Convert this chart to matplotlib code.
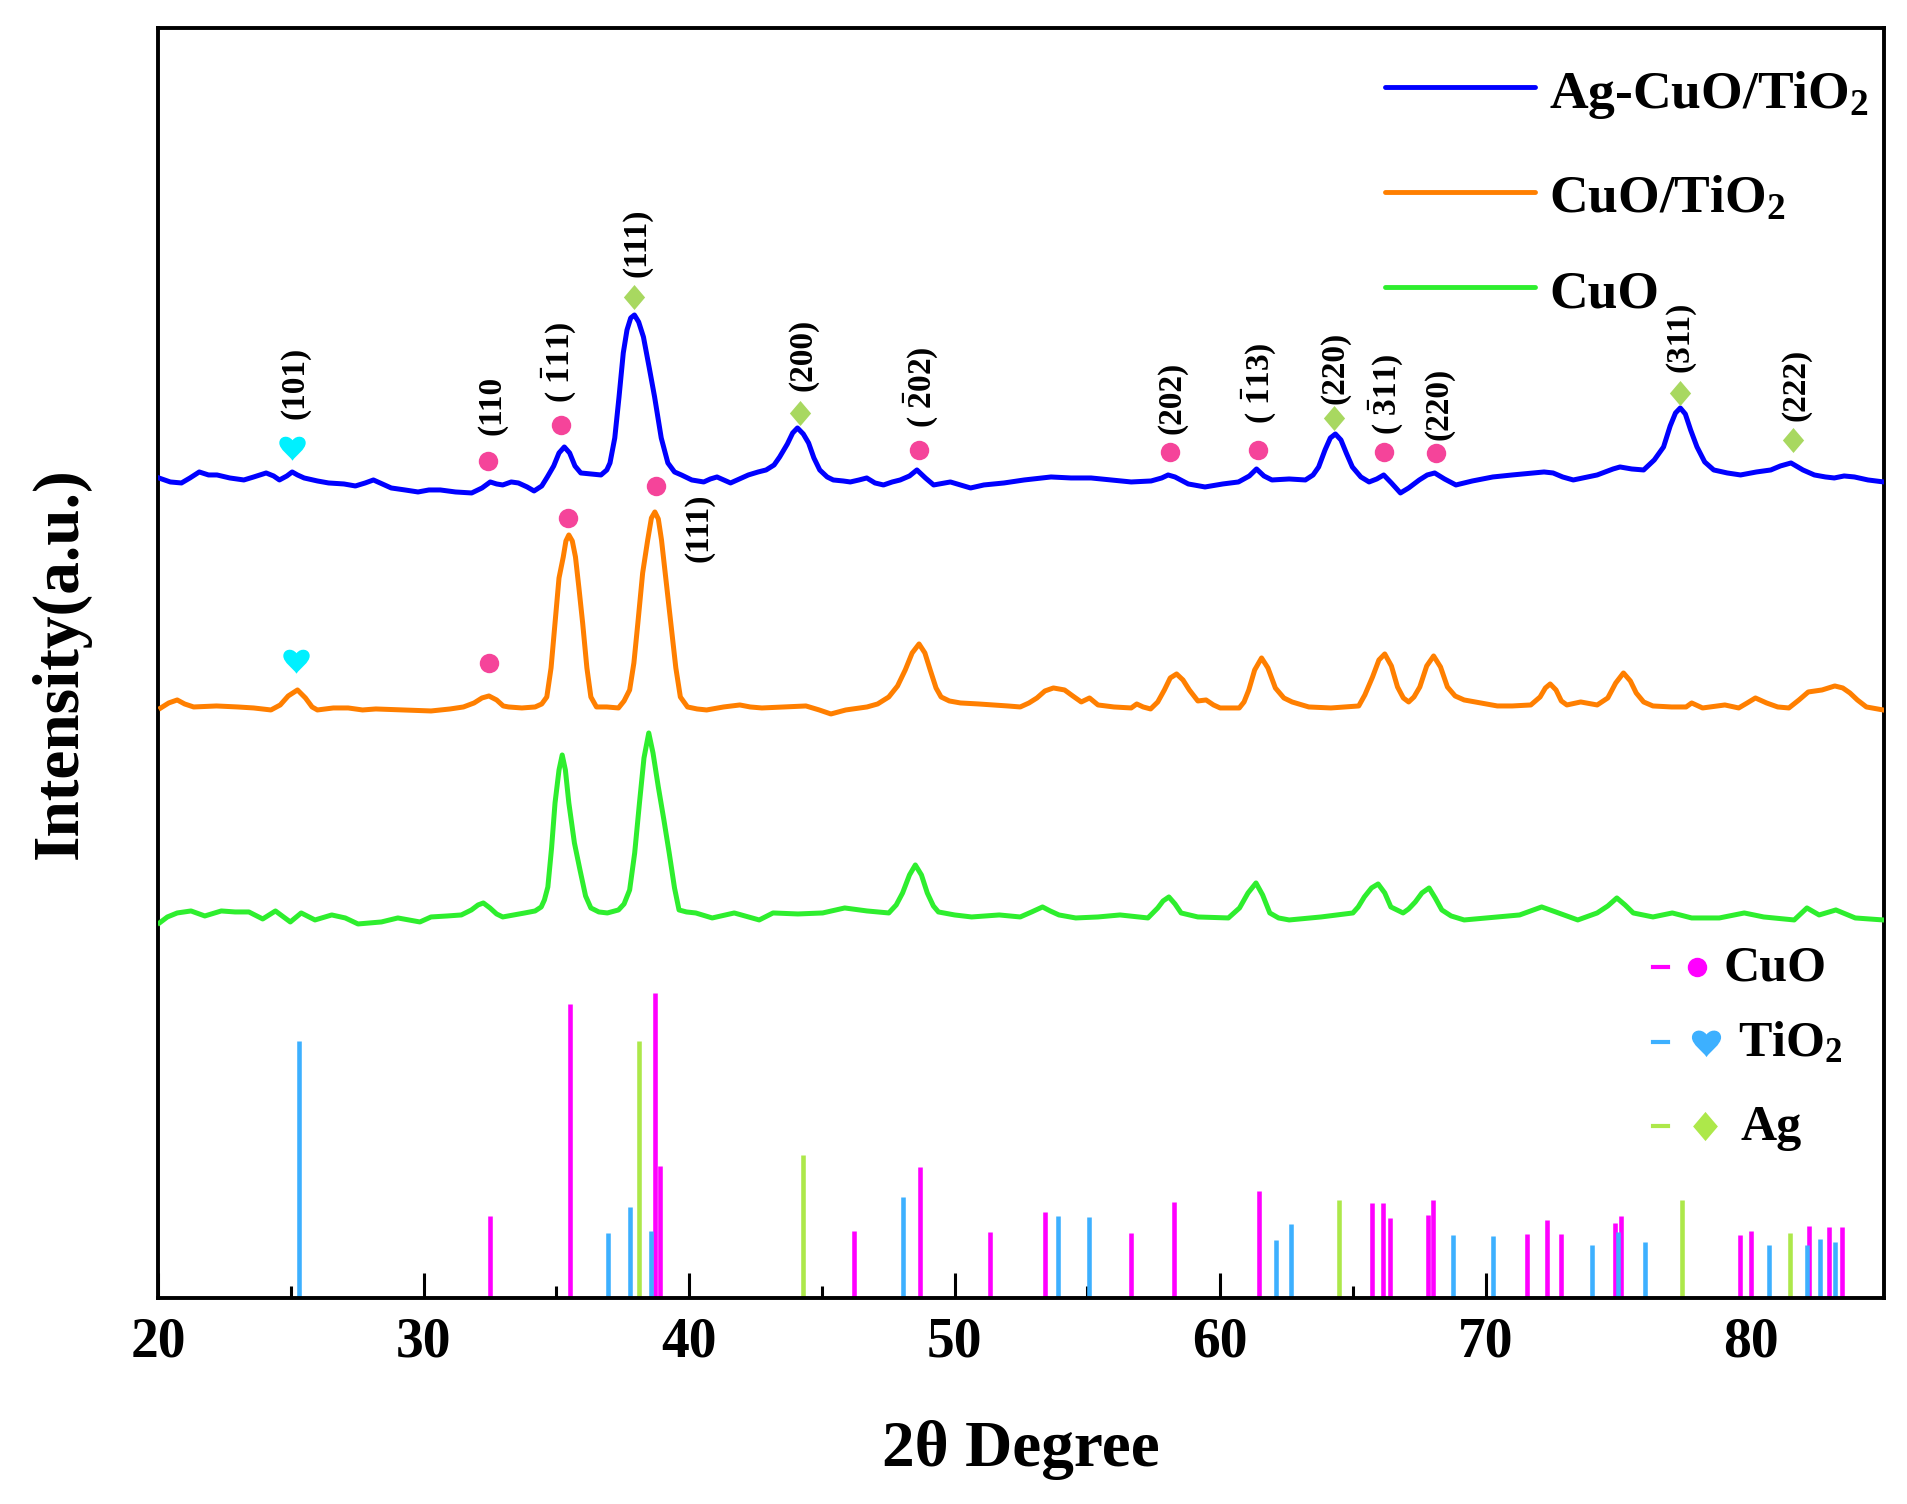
import matplotlib
matplotlib.use("Agg")
import matplotlib.pyplot as plt
from matplotlib.path import Path

plt.rcParams['font.family'] = ['Liberation Serif', 'DejaVu Serif']
plt.rcParams['font.weight'] = 'bold'
plt.rcParams['mathtext.fontset'] = 'custom'
plt.rcParams['mathtext.rm'] = 'Liberation Serif:bold'
plt.rcParams['mathtext.bf'] = 'Liberation Serif:bold'
plt.rcParams['mathtext.it'] = 'Liberation Serif:bold:italic'

# ---------------- data (2theta in degrees, intensity in arbitrary units) -------------
# Ag-CuO/TiO2 pattern (2theta, intensity)
blue_pts = [
    (20.03, 820), (20.46, 816), (20.88, 815), (21.2, 820), (21.55, 826), (21.9, 823), (22.22, 823),
    (22.7, 820), (23.23, 818), (23.6, 821), (24.07, 825), (24.35, 822), (24.57, 818), (24.85, 822),
    (25.05, 826), (25.25, 823), (25.5, 820), (26.0, 817), (26.42, 815), (27.0, 814), (27.43, 812),
    (27.8, 815), (28.11, 818), (28.45, 814), (28.78, 810), (29.3, 808), (29.79, 806), (30.2, 808),
    (30.63, 808), (31.2, 806), (31.81, 805), (32.2, 810), (32.51, 816), (32.75, 814), (32.98, 813),
    (33.3, 816), (33.57, 815), (33.9, 811), (34.16, 807), (34.45, 812), (34.66, 821), (34.9, 832),
    (35.1, 845), (35.3, 851), (35.5, 845), (35.7, 832), (35.92, 825), (36.3, 824), (36.68, 823),
    (36.9, 828), (37.02, 835), (37.2, 860), (37.36, 901), (37.52, 945), (37.66, 968), (37.8, 980),
    (37.94, 983), (38.1, 976), (38.28, 961), (38.5, 930), (38.7, 901), (38.95, 860), (39.2, 835),
    (39.45, 826), (39.71, 823), (40.1, 818), (40.55, 816), (40.8, 819), (41.05, 821), (41.3, 818),
    (41.56, 815), (41.9, 819), (42.23, 823), (42.6, 826), (42.9, 828), (43.2, 833), (43.41, 841),
    (43.7, 854), (43.9, 865), (44.08, 870), (44.3, 864), (44.5, 855), (44.7, 840), (44.92, 828),
    (45.2, 821), (45.43, 818), (45.8, 817), (46.07, 816), (46.4, 818), (46.69, 820), (47.0, 815),
    (47.32, 813), (47.65, 816), (47.95, 818), (48.3, 822), (48.58, 828), (48.9, 820), (49.21, 813),
    (49.84, 816), (50.6, 810), (51.1, 813), (51.86, 815), (52.62, 818), (53.63, 821), (54.38, 820),
    (55.14, 820), (55.9, 818), (56.65, 816), (57.4, 817), (57.8, 820), (58.04, 823), (58.3, 821),
    (58.8, 814), (59.43, 811), (60.1, 814), (60.69, 816), (61.1, 822), (61.37, 829), (61.65, 822),
    (61.95, 818), (62.6, 819), (63.21, 818), (63.5, 823), (63.71, 831), (63.95, 848), (64.15, 860),
    (64.34, 864), (64.55, 858), (64.75, 845), (64.98, 831), (65.3, 821), (65.61, 816), (65.9, 819),
    (66.16, 823), (66.45, 815), (66.79, 805), (67.1, 810), (67.5, 818), (67.8, 823), (68.08, 825),
    (68.45, 819), (68.88, 813), (69.5, 817), (70.27, 821), (71.0, 823), (71.78, 825), (72.2, 826),
    (72.54, 825), (72.9, 821), (73.3, 818), (74.2, 823), (74.8, 829), (75.06, 831), (75.5, 829),
    (75.95, 828), (76.35, 838), (76.7, 851), (76.95, 872), (77.15, 885), (77.33, 890), (77.52, 884),
    (77.72, 868), (77.96, 851), (78.25, 836), (78.59, 828), (79.1, 825), (79.6, 823), (80.2, 826),
    (80.74, 828), (81.1, 832), (81.5, 835), (81.95, 828), (82.38, 823), (82.8, 821), (83.13, 820),
    (83.5, 822), (83.89, 821), (84.4, 818), (85.0, 816)]

# CuO/TiO2 pattern
orange_pts = [
    (20.1, 590), (20.4, 595), (20.72, 598), (21.0, 594), (21.34, 591), (22.2, 592), (23.0, 591),
    (23.6, 590), (24.25, 588), (24.6, 593), (24.9, 602), (25.25, 608), (25.55, 600), (25.8, 591),
    (26.0, 588), (26.6, 590), (27.16, 590), (27.7, 588), (28.2, 589), (29.2, 588), (30.28, 587),
    (31.0, 589), (31.5, 591), (31.9, 595), (32.2, 600), (32.46, 602), (32.75, 598), (33.0, 592),
    (33.2, 591), (33.7, 590), (34.2, 591), (34.45, 594), (34.64, 601), (34.8, 630), (34.95, 675),
    (35.1, 720), (35.26, 741), (35.36, 757), (35.47, 763), (35.6, 757), (35.72, 741), (35.85, 710),
    (35.99, 675), (36.15, 630), (36.3, 601), (36.51, 591), (36.9, 591), (37.34, 590), (37.55, 597),
    (37.76, 608), (37.92, 635), (38.07, 675), (38.25, 725), (38.44, 758), (38.58, 780), (38.71, 786),
    (38.84, 779), (38.96, 758), (39.12, 720), (39.31, 675), (39.5, 630), (39.67, 601), (39.94, 591),
    (40.3, 589), (40.66, 588), (41.3, 591), (41.91, 593), (42.3, 591), (42.74, 590), (43.6, 591),
    (44.4, 592), (44.9, 588), (45.34, 584), (45.9, 588), (46.7, 591), (47.1, 594), (47.52, 601),
    (47.85, 612), (48.14, 628), (48.4, 645), (48.66, 654), (48.88, 645), (49.08, 628), (49.3, 610),
    (49.49, 601), (49.8, 597), (50.22, 595), (50.9, 594), (51.47, 593), (52.0, 592), (52.47, 591),
    (52.8, 595), (53.1, 600), (53.4, 607), (53.72, 610), (54.14, 608), (54.45, 602), (54.77, 596),
    (55.08, 600), (55.4, 593), (56.0, 591), (56.65, 590), (56.86, 594), (57.1, 591), (57.38, 589),
    (57.65, 596), (57.9, 608), (58.12, 620), (58.36, 624), (58.6, 618), (58.84, 608), (59.16, 597),
    (59.47, 598), (59.75, 593), (60.0, 590), (60.72, 590), (60.9, 596), (61.08, 608), (61.3, 628),
    (61.56, 640), (61.8, 630), (62.08, 610), (62.4, 600), (62.71, 596), (63.34, 591), (64.17, 590),
    (65.22, 592), (65.45, 603), (65.74, 621), (65.98, 638), (66.2, 644), (66.45, 632), (66.68, 611),
    (66.9, 600), (67.1, 596), (67.3, 601), (67.52, 611), (67.78, 632), (68.04, 642), (68.3, 631),
    (68.56, 611), (68.85, 602), (69.19, 598), (69.82, 595), (70.44, 592), (71.0, 592), (71.7, 593),
    (72.05, 601), (72.25, 610), (72.43, 614), (72.65, 608), (72.85, 597), (73.06, 593), (73.58, 596),
    (74.2, 593), (74.6, 600), (74.9, 615), (75.19, 625), (75.45, 617), (75.67, 605), (75.95, 596),
    (76.3, 592), (77.0, 591), (77.55, 591), (77.76, 595), (78.17, 590), (79.01, 593), (79.53, 590),
    (79.85, 595), (80.16, 600), (80.58, 595), (81.0, 591), (81.42, 590), (81.8, 598), (82.15, 606),
    (82.67, 608), (83.15, 612), (83.45, 610), (83.72, 605), (84.0, 598), (84.34, 591), (84.97, 588)]

# CuO pattern
green_pts = [
    (20.05, 375), (20.35, 381), (20.72, 385), (21.24, 387), (21.76, 382), (22.38, 387), (22.9, 386),
    (23.42, 386), (23.94, 379), (24.42, 387), (24.98, 376), (25.39, 385), (25.91, 378), (26.54, 383),
    (27.05, 380), (27.53, 374), (28.41, 376), (29.03, 380), (29.86, 376), (30.28, 381), (30.9, 382),
    (31.42, 383), (31.8, 388), (32.05, 393), (32.25, 395), (32.5, 390), (32.75, 384), (32.98, 381),
    (33.4, 383), (33.81, 385), (34.2, 387), (34.43, 391), (34.55, 398), (34.68, 411), (34.82, 450),
    (34.95, 495), (35.1, 528), (35.22, 543), (35.34, 528), (35.47, 495), (35.68, 455), (35.89, 428),
    (36.1, 402), (36.3, 390), (36.6, 386), (36.92, 385), (37.34, 388), (37.55, 394), (37.76, 408),
    (37.95, 445), (38.13, 495), (38.3, 540), (38.48, 565), (38.64, 545), (38.84, 511), (39.05, 478),
    (39.25, 445), (39.45, 410), (39.62, 388), (39.9, 386), (40.25, 385), (40.87, 380), (41.7, 385),
    (42.64, 378), (43.16, 385), (44.1, 384), (45.03, 385), (45.86, 390), (46.7, 387), (47.52, 385),
    (47.8, 393), (48.04, 405), (48.3, 423), (48.52, 433), (48.75, 423), (48.97, 405), (49.2, 392),
    (49.39, 386), (50.0, 383), (50.64, 381), (51.68, 383), (52.47, 381), (52.9, 386), (53.31, 391),
    (53.6, 387), (53.93, 383), (54.56, 380), (55.4, 381), (56.23, 383), (57.28, 380), (57.65, 390),
    (57.85, 397), (58.07, 401), (58.3, 394), (58.53, 385), (59.16, 381), (60.31, 380), (60.73, 390),
    (61.05, 405), (61.35, 415), (61.6, 403), (61.87, 385), (62.2, 380), (62.6, 378), (63.8, 381),
    (65.0, 385), (65.2, 391), (65.43, 401), (65.7, 410), (65.95, 414), (66.2, 405), (66.43, 391),
    (66.89, 385), (67.1, 389), (67.35, 396), (67.6, 405), (67.87, 410), (68.1, 400), (68.35, 388),
    (68.7, 382), (69.19, 378), (70.44, 381), (71.28, 383), (71.7, 387), (72.11, 391), (72.64, 386),
    (73.47, 378), (74.2, 385), (74.6, 392), (74.94, 400), (75.25, 393), (75.56, 385), (76.3, 381),
    (77.03, 385), (77.76, 380), (78.8, 380), (79.74, 385), (80.47, 381), (81.62, 378), (82.1, 390),
    (82.56, 383), (83.19, 388), (83.92, 380), (84.97, 378)]

blue_x, blue_y = zip(*blue_pts)
orange_x, orange_y = zip(*orange_pts)
green_x, green_y = zip(*green_pts)

# standard reference patterns (stick positions and heights)
cuo_ref_x = [32.49, 35.52, 38.70, 38.90, 46.21, 48.68, 51.32, 53.42, 56.65, 58.26, 61.48,
             65.72, 66.15, 66.41, 67.83, 68.00, 71.54, 72.30, 72.85, 74.89, 75.11, 79.59,
             80.00, 82.17, 82.93, 83.43]
cuo_ref_h = [82, 294, 305, 132, 67, 131, 66, 86, 65, 96, 107,
             95, 95, 80, 83, 98, 64, 78, 64, 75, 82, 63,
             67, 72, 71, 71]
tio2_ref_x = [25.32, 36.93, 37.79, 38.55, 48.07, 53.91, 55.07, 62.11, 62.67, 68.76, 70.28,
              74.02, 75.00, 76.00, 80.67, 82.10, 82.60, 83.15]
tio2_ref_h = [257, 65, 91, 67, 101, 82, 81, 58, 74, 63, 62,
              53, 66, 56, 53, 53, 59, 56]
ag_ref_x = [38.12, 44.29, 64.46, 77.39, 81.48]
ag_ref_h = [257, 143, 98, 98, 65]

# peak markers
cuo_mark_x = [32.43, 35.17, 35.45, 38.75, 32.46, 48.66, 58.12, 61.44, 66.16, 68.13]
cuo_mark_y = [837, 873, 780, 812, 635, 848, 846, 848, 846, 845]
tio2_mark_x = [25.05, 25.19]
tio2_mark_y = [851, 638]
ag_mark_x = [37.91, 44.17, 64.27, 77.33, 81.57]
ag_mark_y = [1001, 885, 880, 905, 858]

# Miller index labels
hkl_text = ['(101)', '(110', r'$(\ \bar{1}11)$', '(111)', '(200)', '(111)', r'$(\ \bar{2}02)$',
            '(202)', r'$(\ \bar{1}13)$', '(220)', r'$(\ \bar{3}11)$', '(220)', '(311)', '(222)']
hkl_x = [25.17, 32.56, 35.09, 38.03, 44.29, 40.38, 48.71, 58.17, 61.44, 64.34, 66.24, 68.25,
         77.33, 81.67]
hkl_y = [915, 893, 936, 1055, 943, 770, 911, 900, 915, 930, 904, 894, 961, 913]

sample_names = ['Ag-CuO/TiO$_2$', 'CuO/TiO$_2$', 'CuO']
phase_names = ['CuO', 'TiO$_2$', 'Ag']
xticks = [20, 30, 40, 50, 60, 70, 80]

# ---------------- style -------------
c_blue, c_orange, c_green = '#0000FF', '#FF7F00', '#2EEE2E'
c_cuo_ref, c_tio2_ref, c_ag_ref = '#FF00FF', '#3DB0FF', '#ADE84A'
c_dot, c_heart, c_diam = '#F5449A', '#00F0FF', '#A8D860'

heart = Path([(0, -1.0), (-0.25, -0.6), (-1.0, -0.15), (-1.0, 0.35),
              (-1.0, 0.85), (-0.35, 1.0), (0, 0.55),
              (0.35, 1.0), (1.0, 0.85), (1.0, 0.35),
              (1.0, -0.15), (0.25, -0.6), (0, -1.0), (0, -1.0)],
             [Path.MOVETO, Path.CURVE4, Path.CURVE4, Path.CURVE4,
              Path.CURVE4, Path.CURVE4, Path.CURVE4,
              Path.CURVE4, Path.CURVE4, Path.CURVE4,
              Path.CURVE4, Path.CURVE4, Path.CURVE4, Path.CLOSEPOLY])
diamond = Path([(0, 1), (0.85, 0), (0, -1), (-0.85, 0), (0, 1)],
               [Path.MOVETO, Path.LINETO, Path.LINETO, Path.LINETO, Path.CLOSEPOLY])

fig = plt.figure(figsize=(19.07, 15.04), dpi=100)
ax = fig.add_axes([0.0829, 0.1370, 0.9050, 0.8444])

ax.vlines(cuo_ref_x, 0, cuo_ref_h, color=c_cuo_ref, lw=3.3, zorder=2)
ax.vlines(tio2_ref_x, 0, tio2_ref_h, color=c_tio2_ref, lw=3.3, zorder=2)
ax.vlines(ag_ref_x, 0, ag_ref_h, color=c_ag_ref, lw=3.3, zorder=2)

ax.plot(blue_x, blue_y, color=c_blue, lw=3.6, zorder=3, solid_joinstyle='round')
ax.plot(orange_x, orange_y, color=c_orange, lw=3.6, zorder=3, solid_joinstyle='round')
ax.plot(green_x, green_y, color=c_green, lw=3.6, zorder=3, solid_joinstyle='round')

ax.plot(cuo_mark_x, cuo_mark_y, ls='none', marker='o', ms=14, color=c_dot, mec='none', zorder=4)
ax.plot(tio2_mark_x, tio2_mark_y, ls='none', marker=heart, ms=19, color=c_heart, mec='none', zorder=4)
ax.plot(ag_mark_x, ag_mark_y, ls='none', marker=diamond, ms=18, color=c_diam, mec='none', zorder=4)

for t, x, y in zip(hkl_text, hkl_x, hkl_y):
    ax.text(x, y, t, rotation=90, ha='center', va='center', fontsize=24,
            fontweight='bold', zorder=5)

# sample legend (top right)
leg_y = [1211, 1106, 1011]
for name, col, y in zip(sample_names, [c_blue, c_orange, c_green], leg_y):
    ax.plot([66.21, 71.86], [y, y], color=col, lw=3.5, solid_capstyle='round', zorder=5)
    ax.text(72.39, y - 21, name, fontsize=38.5, fontweight='bold', ha='left', va='baseline', zorder=5)

# phase legend (bottom right)
ph_y = [331, 256, 172]
ph_cols = [c_cuo_ref, c_tio2_ref, c_ag_ref]
ph_mark = ['o', heart, diamond]
ph_ms = [14, 21, 21]
ph_mx = [77.97, 78.30, 78.27]
ph_tx = [78.95, 79.50, 79.58]
for name, col, y, m, ms, mx, tx in zip(phase_names, ph_cols, ph_y, ph_mark, ph_ms, ph_mx, ph_tx):
    ax.plot([76.31, 76.87], [y, y], color=col, lw=3.0, zorder=5)
    ax.plot([mx], [y], ls='none', marker=m, ms=ms, color=col, mec='none', zorder=5)
    ax.text(tx, y - 14, name, fontsize=36, fontweight='bold', ha='left', va='baseline', zorder=5)

ax.set_xlim(20, 85)
ax.set_ylim(0, 1270)
ax.set_xticks(xticks)
ax.set_xticks([25, 35, 45, 55, 65, 75], minor=True)
ax.set_yticks([])
ax.tick_params(axis='x', which='major', direction='in', length=18, width=2.2,
               labelsize=40, pad=13, top=False)
ax.tick_params(axis='x', which='minor', direction='in', length=9, width=2.2, top=False)
for lab in ax.get_xticklabels():
    lab.set_fontweight('bold')
for sp in ax.spines.values():
    sp.set_linewidth(2.8)

ax.set_xlabel('2θ Degree', fontsize=47, fontweight='bold', va='center')
ax.xaxis.set_label_coords(0.5, -0.1197)
ax.set_ylabel('Intensity(a.u.)', fontsize=47, fontweight='bold', va='center')
ax.yaxis.set_label_coords(-0.0562, 0.5)

fig.savefig('out.png', dpi=100)
